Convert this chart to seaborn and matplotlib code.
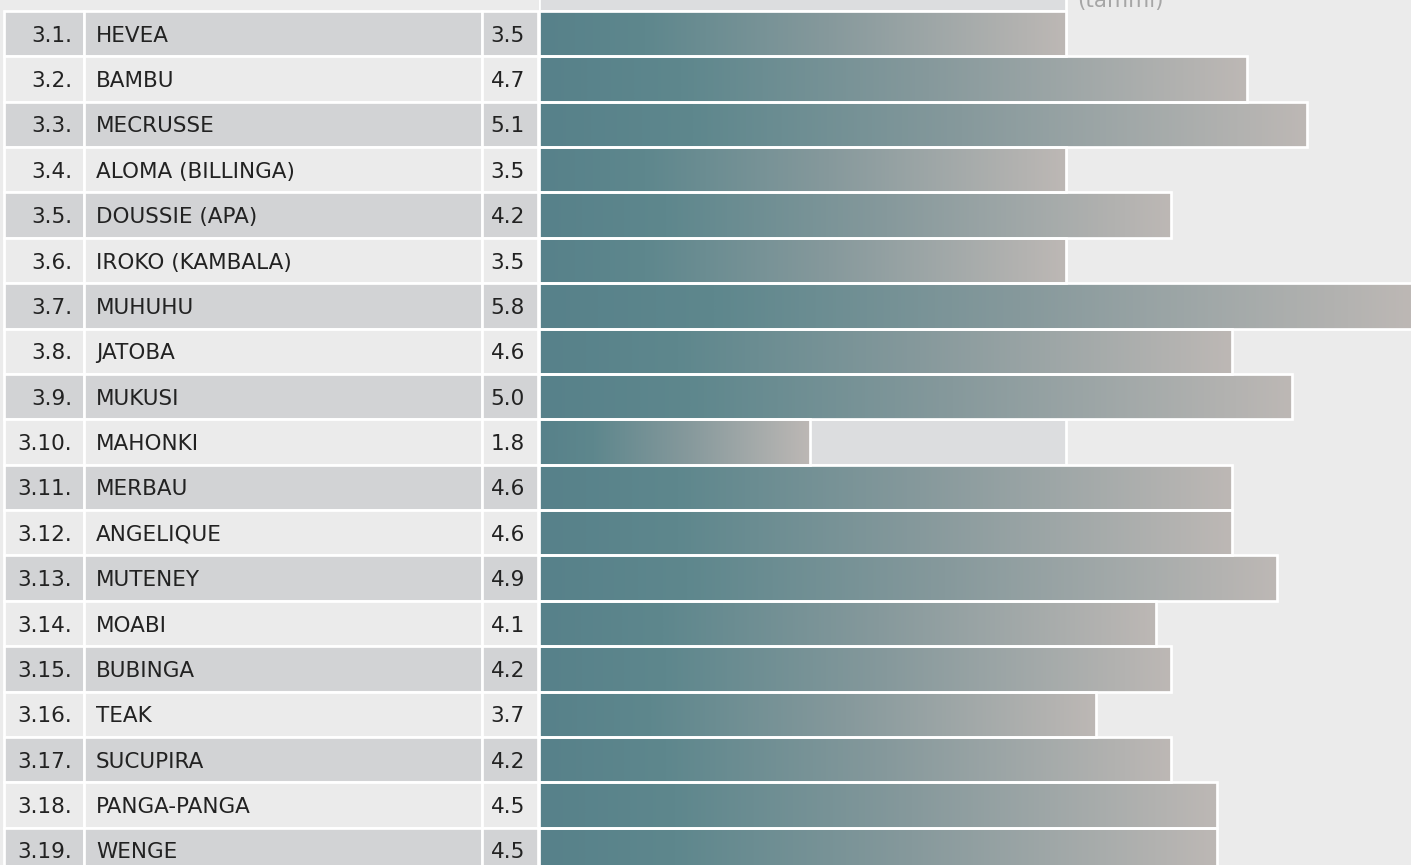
import numpy as np
import pandas as pd
import matplotlib
matplotlib.use("Agg")
import matplotlib.pyplot as plt
import seaborn as sns
from matplotlib.colors import LinearSegmentedColormap
from matplotlib.patches import Rectangle

# ---------------- data ----------------
codes = ["3.1.", "3.2.", "3.3.", "3.4.", "3.5.", "3.6.", "3.7.", "3.8.", "3.9.", "3.10.",
         "3.11.", "3.12.", "3.13.", "3.14.", "3.15.", "3.16.", "3.17.", "3.18.", "3.19."]
names = ["HEVEA", "BAMBU", "MECRUSSE", "ALOMA (BILLINGA)", "DOUSSIE (APA)", "IROKO (KAMBALA)",
         "MUHUHU", "JATOBA", "MUKUSI", "MAHONKI", "MERBAU", "ANGELIQUE", "MUTENEY", "MOABI",
         "BUBINGA", "TEAK", "SUCUPIRA", "PANGA-PANGA", "WENGE"]
values = [3.5, 4.7, 5.1, 3.5, 4.2, 3.5, 5.8, 4.6, 5.0, 1.8,
          4.6, 4.6, 4.9, 4.1, 4.2, 3.7, 4.2, 4.5, 4.5]
reference_value = 3.5
header_unit = "(tammi)"

# ---------------- style ----------------
sns.set_theme(style="white")
plt.rcParams["font.family"] = ["DejaVu Sans"]

BG = "#ebebeb"
DARK = "#d2d3d5"
LIGHT = "#ebebeb"
REF = "#dcdddf"
TXT = "#222222"
FS = 15.5
cmap = LinearSegmentedColormap.from_list(
    "wood", [(0.0, "#57818a"), (0.2, "#5e878d"), (0.55, "#86999c"), (1.0, "#bdb8b5")])

W, H = 1411, 865
fig = plt.figure(figsize=(W / 100, H / 100), dpi=100, facecolor=BG)

pitch = 45.37
c0 = 33.7
ylim = ((H - c0) / pitch, -c0 / pitch)
split = 539
scale = (1066 - 539) / 3.5
lw = 1.95

# ---------------- table (left) ----------------
ax_t = fig.add_axes([0, 0, split / W, 1])
ax_t.set_xlim(0, split)
ax_t.set_ylim(*ylim)
ax_t.axis("off")
cols = [(4, 84), (84, 482), (482, 538)]
n = len(names)
for i in range(n):
    fc = DARK if i % 2 == 0 else LIGHT
    for (x0, x1) in cols:
        ax_t.add_patch(Rectangle((x0, i - 0.5), x1 - x0, 1.0, facecolor=fc,
                                 edgecolor="white", linewidth=lw))
    ax_t.text(72, i, codes[i], ha="right", va="center_baseline", fontsize=FS, color=TXT)
    ax_t.text(96, i, names[i], ha="left", va="center_baseline", fontsize=FS, color=TXT)
    ax_t.text(525, i, f"{values[i]:.1f}", ha="right", va="center_baseline", fontsize=FS, color=TXT)

# ---------------- bars (right) ----------------
ax_b = fig.add_axes([split / W, 0, (W - split) / W, 1])
ax_b.set_facecolor(BG)
df = pd.DataFrame({"name": names, "value": values})
sns.barplot(data=df, x="value", y="name", order=names, orient="h", errorbar=None,
            width=1.0, color="#58828a", edgecolor="white", linewidth=lw, ax=ax_b, zorder=3)
bars = list(ax_b.containers[0])

# reference band (up to HEVEA value) for header row and all rows
ref_pos = np.arange(-1, n)
ax_b.barh(ref_pos, [reference_value] * len(ref_pos), height=1.0, color=REF,
          edgecolor="white", linewidth=lw, zorder=1)

grad = np.linspace(0, 1, 1024).reshape(1, -1)
for p in bars:
    x0, y0, w, h = p.get_x(), p.get_y(), p.get_width(), p.get_height()
    im = ax_b.imshow(grad, cmap=cmap, extent=[x0, x0 + w, y0 + h, y0], aspect="auto",
                     interpolation="bilinear", zorder=2)
    im.set_clip_path(p)
    p.set_facecolor("none")

ax_b.text(3.5 + 11 / scale, -0.5 - 4 / pitch, header_unit, ha="left", va="baseline",
          fontsize=FS, color="#a6a6a6")

ax_b.set_xlim(0, (W - split) / scale)
ax_b.set_ylim(*ylim)
ax_b.set_axis_off()

fig.savefig("out.png", dpi=100, facecolor=BG)
